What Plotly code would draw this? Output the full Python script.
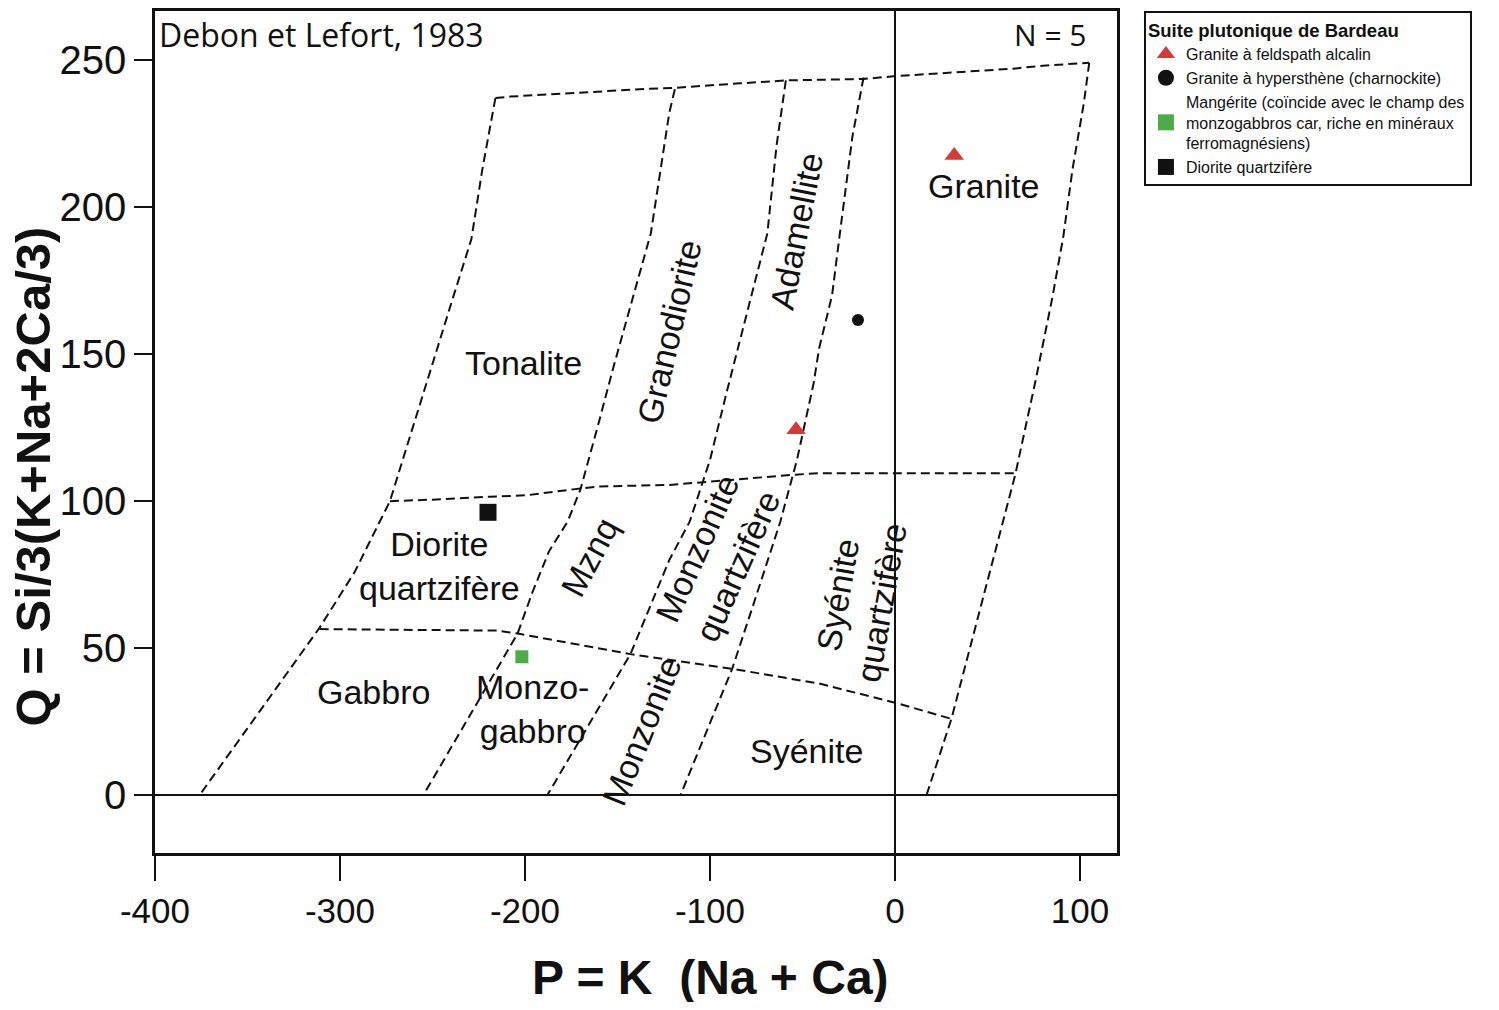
import plotly.graph_objects as go

# Debon & Lefort (1983) P-Q diagram, field boundaries
outer_left_x = [-216, -223, -229, -239, -273, -292, -311, -376]
outer_left_y = [237, 213, 189, 169, 100, 76, 57, 0]

tonalite_right_x = [-119, -122, -132, -152, -160, -170, -177, -187, -196, -204, -255]
tonalite_right_y = [240, 232, 191, 146, 127, 104, 93, 83, 69, 55, 0]

granodiorite_right_x = [-59, -64, -69, -78, -91, -100, -111, -122, -143, -188]
granodiorite_right_y = [243, 221, 191, 169, 137, 114, 93, 80, 48, 0]

adamellite_right_x = [-17, -23, -30, -34, -41, -44, -53, -62, -77, -88, -116]
adamellite_right_y = [244, 224, 190, 170, 152, 140, 114, 93, 64, 43, 0]

outer_right_x = [105, 102, 96, 91, 85, 76, 65, 30.5, 17]
outer_right_y = [249, 235, 213, 190, 169, 141, 109, 26, 0]

top_x = [-216, -208, -138, -119, -84, -59, -17, 1, 64, 80, 105]
top_y = [237, 237.5, 240, 240.5, 242, 243, 243.5, 244.5, 247, 248, 249]

mid_x = [-273, -250, -219, -199, -174, -160, -122, -84, -54, -41, 65]
mid_y = [100, 100.5, 101.5, 102, 104, 105, 105.5, 107.5, 109, 109.5, 109.5]

low_x = [-311, -215, -204, -143, -88, -41, 0, 30.5]
low_y = [56.5, 56, 55, 48, 43, 38, 31.5, 26]

# samples
gaf_x = [32, -53.5]
gaf_y = [217.5, 124.3]
ghy_x = [-20]
ghy_y = [161.6]
mang_x = [-201.7]
mang_y = [47.1]
dq_x = [-220]
dq_y = [96.2]

x_ticks = [-400, -300, -200, -100, 0, 100]
x_ticklabels = ["-400", "-300", "-200", "-100", "0", "100"]
y_ticks = [0, 50, 100, 150, 200, 250]

# field names: text, x, y, angle
field_text = ["Tonalite", "Granodiorite", "Adamellite", "Granite",
              "Diorite<br>quartzifère", "Mznq", "Monzonite<br>quartzifère",
              "Syénite<br>quartzifère", "Gabbro", "Monzo-<br>gabbro",
              "Monzonite", "Syénite"]
field_x = [-201, -122, -53, 48, -246, -165, -96, -19, -282, -196, -137, -48]
field_y = [147, 157.5, 192, 207, 78, 81, 81, 67, 35, 29.5, 22, 15]
field_angle = [0, -77, -79, 0, 0, -62, -66, -80, 0, 0, -68, 0]

fig = go.Figure()

boundaries = [
    (outer_left_x, outer_left_y), (tonalite_right_x, tonalite_right_y),
    (granodiorite_right_x, granodiorite_right_y),
    (adamellite_right_x, adamellite_right_y), (outer_right_x, outer_right_y),
    (top_x, top_y), (mid_x, mid_y), (low_x, low_y),
]
for bx, by in boundaries:
    fig.add_trace(go.Scatter(x=bx, y=by, mode="lines", showlegend=False,
                             hoverinfo="skip",
                             line=dict(color="#111111", width=2, dash="9px,5px")))

samples = [
    ("Granite à feldspath alcalin", gaf_x, gaf_y, "triangle-up", 17, "#d33c36"),
    ("Granite à hypersthène (charnockite)", ghy_x, ghy_y, "circle", 12, "#111111"),
    ("Mangérite (coïncide avec le champ des<br>monzogabbros car, riche en minéraux<br>ferromagnésiens)",
     mang_x, mang_y, "square", 13, "#4dac47"),
    ("Diorite quartzifère", dq_x, dq_y, "square", 17, "#111111"),
]
for name, sx, sy, sym, size, col in samples:
    fig.add_trace(go.Scatter(x=sx, y=sy, mode="markers", name=name, showlegend=False,
                             marker=dict(symbol=sym, size=size, color=col)))
    # legend entry with the larger key symbol used in the figure legend
    fig.add_trace(go.Scatter(x=[None], y=[None], mode="markers", name=name,
                             marker=dict(symbol=sym, size=16, color=col)))

for t, x, y, a in zip(field_text, field_x, field_y, field_angle):
    fig.add_annotation(x=x, y=y, text=t, textangle=a, showarrow=False,
                       font=dict(family="Liberation Sans, Arial", size=34, color="#111111"))

fig.add_annotation(x=-399, y=258.5, text="Debon et Lefort, 1983", xanchor="left",
                   showarrow=False,
                   font=dict(family="Open Sans", size=32, color="#111111"))
fig.add_annotation(x=104.5, y=258.5, text="N = 5", xanchor="right", showarrow=False,
                   font=dict(family="Open Sans", size=30, color="#111111"))

# axis titles
fig.add_annotation(xref="paper", yref="paper", x=0.577, y=-0.148,
                   xanchor="center", yanchor="middle",
                   text="<b>P = K\u00a0\u00a0(Na + Ca)</b>", showarrow=False,
                   font=dict(family="Liberation Sans Narrow, Arial Narrow, Liberation Sans",
                             size=48, color="#111111"))
fig.add_annotation(xref="paper", yref="paper", x=-0.127, y=0.447, textangle=-90,
                   xanchor="center", yanchor="middle",
                   text="<b>Q = Si/3(K+Na+2Ca/3)</b>", showarrow=False,
                   font=dict(family="Liberation Sans Narrow, Arial Narrow, Liberation Sans",
                             size=49, color="#111111"))

fig.update_layout(
    width=1483, height=994, autosize=False,
    margin=dict(l=147, r=374, t=0, b=149),
    plot_bgcolor="white", paper_bgcolor="white",
    legend=dict(
        title=dict(text="<b>Suite plutonique de Bardeau</b>",
                   font=dict(family="Liberation Sans, Arial", size=18.5, color="#111111")),
        x=1.028, y=1, xanchor="left", yanchor="top",
        bordercolor="#111111", borderwidth=2,
        font=dict(family="Liberation Sans, Arial", size=16, color="#111111"),
        tracegroupgap=0,
    ),
)
fig.update_xaxes(range=[-400, 120], tickvals=x_ticks, ticktext=x_ticklabels,
                 ticks="outside", ticklen=25, tickwidth=2, tickcolor="#111111",
                 showgrid=False, zeroline=True, zerolinecolor="#111111", zerolinewidth=2,
                 showline=True, linecolor="#111111", linewidth=2.5, mirror=True,
                 tickfont=dict(family="Liberation Sans Narrow, Arial Narrow, Liberation Sans",
                               size=35, color="#111111"))
fig.update_yaxes(range=[-19.6, 266.6], tickvals=y_ticks,
                 ticks="outside", ticklen=18, tickwidth=2, tickcolor="#111111",
                 showgrid=False, zeroline=True, zerolinecolor="#111111", zerolinewidth=2,
                 showline=True, linecolor="#111111", linewidth=2.5, mirror=True,
                 tickfont=dict(family="Liberation Sans, Arial", size=40, color="#111111"))

fig.write_html("out.html")
